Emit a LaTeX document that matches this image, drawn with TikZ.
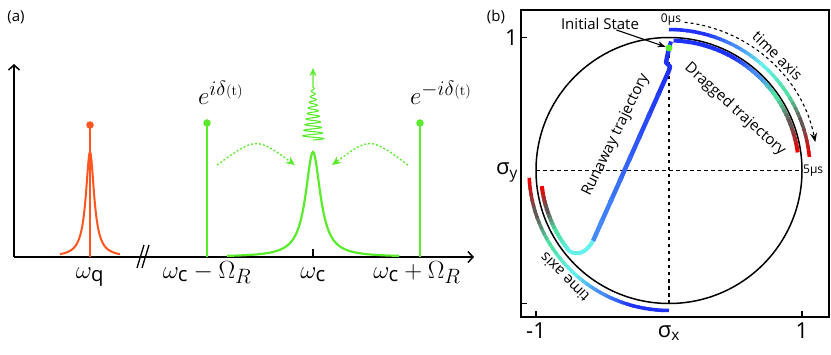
\documentclass[tikz,border=0pt]{standalone}
\usepackage{fontspec}
\setsansfont{Open Sans}
\usetikzlibrary{arrows.meta,calc}

\definecolor{qubitred}{RGB}{255,85,30}
\definecolor{drivegreen}{RGB}{90,235,45}
\definecolor{tb1}{RGB}{30,50,250}
\definecolor{tb2}{RGB}{70,140,250}
\definecolor{tb3}{RGB}{100,240,235}
\definecolor{tb4}{RGB}{80,225,165}
\definecolor{tb5}{RGB}{100,85,85}
\definecolor{tb6}{RGB}{240,0,0}

% arc with a colour gradient: radius, from, to, width, sections, colour pairs
\newcommand{\gradarc}[6]{%
  \foreach \ca/\cb [count=\k from 0] in {#6}{
    \foreach \j in {0,...,5}{
      \pgfmathsetmacro\aa{#2+(#3-#2)*(\k+\j/6)/#5}
      \pgfmathsetmacro\ab{#2+(#3-#2)*min(\k+(\j+1.3)/6,#5)/#5}
      \pgfmathtruncatemacro\p{100-\j*20}
      \draw[line width=#4, color=\ca!\p!\cb] (\aa:#1) arc[start angle=\aa, end angle=\ab, radius=#1];
    }}}

\begin{document}
\begin{tikzpicture}[x=1pt,y=1pt,
  lbl/.style={font=\fontsize{15}{17}\selectfont\sffamily, inner sep=0pt},
  small lbl/.style={font=\fontsize{12}{14}\selectfont\sffamily, inner sep=0pt},
  ticklbl/.style={font=\fontsize{22}{24}\selectfont\sffamily, inner sep=0pt},
  freq/.style={font=\fontsize{29}{31}\selectfont, inner sep=0pt},
  axis/.style={line width=1.5pt, -{Straight Barb[length=5pt,width=11pt]}},
  dotnode/.style={circle, inner sep=0pt, minimum size=7.5pt},
  stem/.style={line width=2pt},
  pull/.style={drivegreen, line width=1.3pt, dash pattern=on 2pt off 2pt, -{Stealth[length=9pt,width=8pt]}}]
  \useasboundingbox (0,0) rectangle (831,354);

  %% (a) spectrum
  \node[lbl] (tagA) at (16,336.5) {(a)};
  \coordinate (O) at (14,97);
  \coordinate (ytop) at (14,290);
  \coordinate (xend) at (474,97);
  \draw[axis] (O) -- (ytop);
  \draw[axis] (O) -- (xend);
  \draw[line width=1.3pt] (137,86) -- (144,109) (142,86) -- (149,109);

  % qubit line
  \draw[qubitred, line width=2pt] plot[domain=-30:30, samples=121] ({90+\x}, {97+105/(1+(\x/5)^2)});
  \node[dotnode, fill=qubitred] (qdot) at (90,229) {};
  \draw[qubitred, stem] (qdot.center) -- (90,97);

  % cavity line and sidebands
  \draw[drivegreen, line width=2.2pt] plot[domain=-86:86, samples=173] ({313+\x}, {97+105/(1+(\x/9)^2)});
  \draw[line width=1.5pt] (313,97) -- (313,105);
  \node[dotnode, fill=drivegreen] (ldot) at (207,231) {};
  \node[dotnode, fill=drivegreen] (rdot) at (420,231) {};
  \draw[drivegreen, stem] (ldot.center) -- (207,97);
  \draw[drivegreen, stem] (rdot.center) -- (420,97);

  % emission
  \coordinate (emit) at (313,286);
  \draw[drivegreen, line width=1.1pt, -{Stealth[length=8pt,width=7pt]}]
    plot[domain=0:1, samples=240] ({313+11*(1-0.92*\x)*sin(9.5*360*\x)}, {214+53*\x}) -- (emit);

  \coordinate (lfrom) at (217,189);
  \coordinate (lto) at (295,189);
  \coordinate (rfrom) at (408,189);
  \coordinate (rto) at (332,189);
  \draw[pull] (lfrom) .. controls (256,217) .. (lto);
  \draw[pull] (rfrom) .. controls (370,217) .. (rto);

  \node[freq, anchor=base west] (lside) at (198,249) {$e^{i\delta{\scriptscriptstyle(\mathrm{t})}}$};
  \node[freq, anchor=base west] (rside) at (410,249) {$e^{-i\delta{\scriptscriptstyle(\mathrm{t})}}$};
  \node[freq, anchor=base] (wq) at (90,76) {$\omega_{\mathsf{q}}$};
  \node[freq, anchor=base] (wlow) at (207,76) {$\omega_{\mathsf{c}}-\Omega_R$};
  \node[freq, anchor=base] (wc) at (313,76) {$\omega_{\mathsf{c}}$};
  \node[freq, anchor=base] (whigh) at (417,76) {$\omega_{\mathsf{c}}+\Omega_R$};

  %% (b) Bloch plane
  \node[lbl] (tagB) at (496,337) {(b)};
  \begin{scope}[shift={(669,183.5)}]
    \draw[line width=1.5pt] (-148,-146.5) rectangle (160,160.5);
    \draw[line width=1.2pt, dash pattern=on 3.5pt off 3.5pt] (-133,0) -- (133,0) (0,-133) -- (0,115);
    \draw[line width=1.5pt] (0,0) circle[radius=133];
    \draw[line width=1.3pt] (-148,133) -- (-142,133) (-148,-133) -- (-142,-133)
      (-133,-146.5) -- (-133,-140.5) (133,-146.5) -- (133,-140.5);
    \node[ticklbl, anchor=east] (ytick) at (-151,133) {1};
    \node[ticklbl, anchor=east] (ylab) at (-151,-2) {σ\textsubscript{y}};
    \node[ticklbl] (xmin) at (-133,-160) {-1};
    \node[ticklbl] (xlab) at (0,-163) {σ\textsubscript{x}};
    \node[ticklbl] (xmax) at (133,-160) {1};

    % time axis along the top
    \draw[line width=1.1pt, dash pattern=on 3pt off 3pt, -{Stealth[length=9pt,width=7pt]}]
      (84:149) arc[start angle=84, end angle=11, radius=149];
    \node[small lbl] (t0) at (2,150.5) {0μs};
    \node[small lbl, anchor=west] (t5) at (134,0) {5μs};
    \node[lbl, rotate=-44] (taxis) at (46.6:158) {time axis};

    % dragged trajectory
    \gradarc{141}{90}{5.5}{3.5pt}{6}{tb1/tb1,tb1/tb2,tb2/tb3,tb3/tb4,tb4/tb5,tb5/tb6}
    \draw[tb1, line width=4pt] (0,122.5) -- (2,129);
    \gradarc{130}{88}{8}{4pt}{6}{tb1/tb1,tb1/tb1,tb1/tb2,tb2/tb4,tb4/tb5,tb5/tb6}
    \node[lbl, rotate=-42] (dragged) at (66,61) {Dragged trajectory};

    % runaway trajectory
    \coordinate (rtop) at (0,100);
    \coordinate (rbot) at (-76,-70.5);
    \draw[tb1, line width=4.5pt, line join=round] (0,122.5) -- (-3,108) -- (1,104) -- (rtop);
    \foreach \j in {0,...,7}{
      \pgfmathsetmacro\sa{\j/8}
      \pgfmathsetmacro\sb{min((\j+1.2)/8,1)}
      \pgfmathtruncatemacro\p{100-\j*14}
      \draw[line width=4.5pt, color=tb1!\p!tb2] ($(rtop)!\sa!(rbot)$) -- ($(rtop)!\sb!(rbot)$);
    }
    \draw[tb3, line width=4pt] (rbot) .. controls (-84,-84) and (-92,-84) .. (219.5:128.2);
    \gradarc{128.2}{219.5}{187}{4pt}{3}{tb3/tb4,tb4/tb5,tb5/tb6}
    \node[lbl, rotate=64] (runaway) at (-53,35.5) {Runaway trajectory};

    % time axis along the lower left
    \gradarc{140}{270}{183}{3.5pt}{6}{tb1/tb1,tb1/tb2,tb2/tb3,tb3/tb4,tb4/tb5,tb5/tb6}
    \node[lbl, rotate=135] (baxis) at (225.6:149.5) {time axis};

    % initial state
    \node[dotnode, fill=drivegreen, minimum size=7pt] (init) at (0,122.5) {};
    \node[lbl] (initlbl) at (-69,146.5) {Initial State};
    \draw[line width=1.1pt, -{Stealth[length=8pt,width=6pt]}] (initlbl.-20) -- (init);
  \end{scope}
\end{tikzpicture}
\end{document}
